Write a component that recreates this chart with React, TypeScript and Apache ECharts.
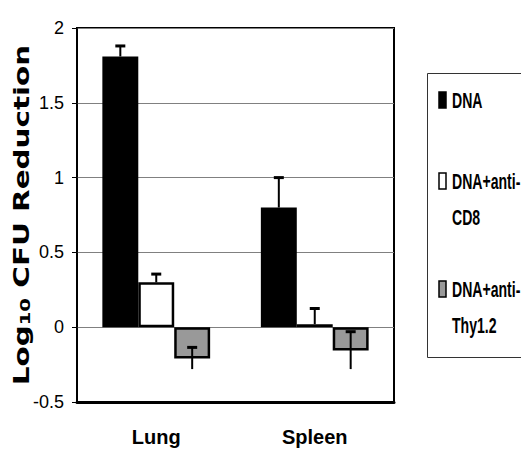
import React, { useEffect, useRef } from "react";
import * as echarts from "echarts";

const categories = ["Lung", "Spleen"];
const seriesNames = ["DNA", "DNA+anti-CD8", "DNA+anti-Thy1.2"];
const dnaValues = [1.81, 0.8];
const cd8Values = [0.3, 0.02];
const thyValues = [-0.21, -0.155];
// visible error-bar extents (cap end, other end)
const dnaErrCap = [1.88, 1.0];
const dnaErrEnd = [1.81, 0.8];
const cd8ErrCap = [0.355, 0.125];
const cd8ErrEnd = [0.3, 0.02];
const thyErrCap = [-0.135, -0.03];
const thyErrEnd = [-0.28, -0.28];
const yTicks = [-0.5, 0, 0.5, 1, 1.5, 2];

const SANS = '"Liberation Sans", Arial, sans-serif';
const CAT_GAP = 0.32;

export default function App() {
  const ref = useRef<HTMLDivElement>(null);
  useEffect(() => {
    document.body.style.margin = "0";
    if (!ref.current) return;
    const chart = echarts.init(ref.current, null, { renderer: "svg" });
    const caps = [dnaErrCap, cd8ErrCap, thyErrCap];
    const ends = [dnaErrEnd, cd8ErrEnd, thyErrEnd];
    const errData: number[][] = [];
    for (let s = 0; s < 3; s++) {
      for (let c = 0; c < categories.length; c++) {
        errData.push([c, s, caps[s][c], ends[s][c]]);
      }
    }
    const legendItems = [
      { color: "#000", lines: ["DNA"], y: 100 },
      { color: "#fff", lines: ["DNA+anti-", "CD8"], y: 181 },
      { color: "#999", lines: ["DNA+anti-", "Thy1.2"], y: 289 },
    ];
    const legendGraphics: any[] = [
      {
        type: "rect",
        shape: { x: 427.5, y: 73.5, width: 120, height: 284 },
        style: { fill: "#fff", stroke: "#333", lineWidth: 1 },
      },
    ];
    legendItems.forEach((it) => {
      legendGraphics.push({
        type: "rect",
        shape: { x: 439, y: it.y - 8, width: 7, height: 16 },
        style: { fill: it.color, stroke: "#000", lineWidth: 1.5 },
      });
      it.lines.forEach((ln, i) => {
        legendGraphics.push({
          type: "text",
          x: 452,
          y: it.y + i * 36,
          scaleX: 0.64,
          style: {
            text: ln,
            fill: "#000",
            font: `bold 22px ${SANS}`,
            verticalAlign: "middle",
            align: "left",
          },
        });
      });
    });

    chart.setOption({
      animation: false,
      grid: {
        left: 77,
        top: 28,
        right: 127,
        bottom: 55,
        show: true,
        borderColor: "#000",
        borderWidth: 2,
        backgroundColor: "transparent",
      },
      xAxis: {
        type: "category",
        data: categories,
        axisLine: { onZero: false, lineStyle: { color: "#000", width: 3 } },
        axisTick: { show: false },
        axisLabel: {
          color: "#000",
          fontFamily: SANS,
          fontWeight: "bold",
          fontSize: 20,
          margin: 25,
        },
      },
      yAxis: {
        type: "value",
        min: -0.5,
        max: 2,
        interval: 0.5,
        axisLine: { show: true, lineStyle: { color: "#000", width: 1.5 } },
        axisTick: { show: true, length: 5, lineStyle: { color: "#000" } },
        splitLine: { show: true, lineStyle: { color: "#808080", width: 1 } },
        axisLabel: {
          color: "#000",
          fontFamily: SANS,
          fontSize: 18,
          margin: 13,
          formatter: (v: number) => (yTicks.includes(v) ? String(v) : ""),
        },
      },
      series: [
        {
          name: seriesNames[0],
          type: "bar",
          data: dnaValues,
          barGap: "0%",
          barCategoryGap: CAT_GAP * 100 + "%",
          itemStyle: { color: "#000", borderColor: "#000", borderWidth: 2 },
        },
        {
          name: seriesNames[1],
          type: "bar",
          data: cd8Values,
          barGap: "0%",
          barCategoryGap: CAT_GAP * 100 + "%",
          itemStyle: { color: "#fff", borderColor: "#000", borderWidth: 2.5 },
        },
        {
          name: seriesNames[2],
          type: "bar",
          data: thyValues,
          barGap: "0%",
          barCategoryGap: CAT_GAP * 100 + "%",
          itemStyle: { color: "#999", borderColor: "#000", borderWidth: 2.5 },
        },
        {
          type: "custom",
          z: 5,
          data: errData,
          encode: { x: 0, y: [2, 3] },
          renderItem: (params: any, api: any) => {
            const cat = api.value(0);
            const s = api.value(1);
            const band = api.size([1, 0])[0];
            const bw = (band * (1 - CAT_GAP)) / 3;
            const cx = api.coord([cat, 0])[0] + (s - 1) * bw;
            const yCap = api.coord([cat, api.value(2)])[1];
            const yEnd = api.coord([cat, api.value(3)])[1];
            return {
              type: "group",
              children: [
                {
                  type: "line",
                  shape: { x1: cx, y1: yCap, x2: cx, y2: yEnd },
                  style: { stroke: "#000", lineWidth: 2 },
                },
                {
                  type: "line",
                  shape: { x1: cx - 5, y1: yCap, x2: cx + 5, y2: yCap },
                  style: { stroke: "#000", lineWidth: 3 },
                },
              ],
            };
          },
        },
      ],
      graphic: [
        {
          type: "text",
          x: 22,
          y: 215,
          rotation: Math.PI / 2,
          scaleX: 1.4,
          style: {
            text: "Log{sub|10} CFU Reduction",
            fill: "#000",
            font: 'bold 21px "DejaVu Sans", sans-serif',
            align: "center",
            verticalAlign: "middle",
            rich: {
              sub: {
                fontSize: 14,
                fontWeight: "bold",
                fontFamily: '"DejaVu Sans", sans-serif',
                fill: "#000",
                padding: [6, 0, 0, 0],
              },
            },
          },
        },
        ...legendGraphics,
      ],
    });
    return () => chart.dispose();
  }, []);
  return <div ref={ref} style={{ width: 521, height: 457 }} />;
}
